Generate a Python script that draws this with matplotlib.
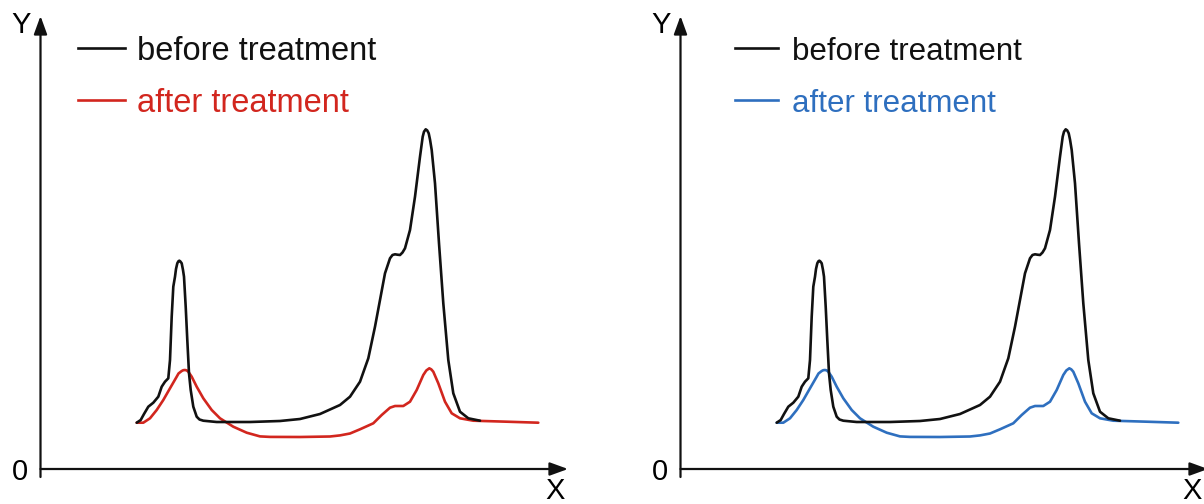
import matplotlib
matplotlib.use("Agg")
import matplotlib.pyplot as plt
from matplotlib.patches import FancyArrowPatch

plt.rcParams['font.family'] = ['Liberation Sans', 'DejaVu Sans']

# ---- data (same curves in both panels; x, y in axis units) ----
before_x = [96.2, 100.2, 103.5, 107.8, 112.8, 117.8, 121.2, 124.5, 127.8, 129.5,
            131.2, 132.8, 134.5, 135.5, 136.8, 137.8, 138.8, 139.8, 141.2, 142.5,
            143.5, 145.2, 146.8, 148.5, 150.2, 152.8, 156.2, 159.0, 162.8, 176.2,
            209.5, 239.5, 259.5, 279.5, 299.5, 309.5, 319.5, 327.8, 334.5, 339.5,
            344.5, 349.5, 352.0, 354.5, 357.0, 359.5, 362.0, 364.5, 369.5, 374.5,
            379.5, 382.2, 383.5, 385.2, 386.7, 388.2, 389.5, 391.2, 394.5, 398.5,
            402.8, 407.8, 412.8, 419.5, 427.8, 439.5]
before_y = [46.3, 49.0, 55.0, 62.3, 66.3, 72.3, 82.3, 87.3, 90.7, 109.0,
            152.3, 182.3, 192.3, 200.0, 205.7, 207.6, 208.3, 207.6, 205.7, 199.0,
            192.3, 162.3, 129.0, 95.7, 79.0, 62.3, 52.3, 49.5, 48.3, 47.0,
            47.0, 48.0, 50.0, 55.0, 64.0, 72.3, 87.3, 110.7, 142.3, 169.0,
            195.7, 210.7, 214.0, 214.7, 214.3, 214.0, 216.5, 220.7, 239.0, 272.3,
            312.3, 332.3, 337.3, 339.7, 338.6, 335.7, 329.5, 319.0, 285.7, 225.7,
            165.7, 109.0, 75.7, 57.3, 50.7, 48.3]

after_x = [96.2, 102.8, 109.5, 116.2, 122.8, 129.5, 136.2, 138.0, 141.2, 142.8,
           144.5, 146.2, 147.8, 151.2, 156.2, 162.8, 171.2, 179.5, 192.8, 206.2,
           219.5, 229.5, 259.5, 289.5, 299.5, 309.5, 319.5, 332.8, 341.2, 349.5,
           354.5, 362.8, 369.5, 376.2, 382.8, 385.8, 388.8, 390.8, 392.8, 397.8,
           404.5, 411.2, 419.5, 432.8, 466.2, 497.8]
after_y = [46.3, 46.3, 50.7, 59.0, 69.0, 80.7, 92.3, 95.5, 98.0, 98.8,
           99.0, 98.6, 97.3, 92.3, 82.3, 70.7, 59.0, 50.7, 42.3, 36.3,
           32.6, 32.1, 32.0, 32.5, 33.6, 35.5, 39.7, 45.7, 54.0, 61.3,
           63.0, 63.0, 67.3, 79.0, 94.0, 98.5, 100.7, 99.6, 97.3, 85.7,
           67.3, 55.7, 50.7, 48.3, 47.3, 46.3]

labels = ["before treatment", "after treatment"]
after_colors = ["#d2261e", "#2e6fbf"]

W, H = 1204, 504
fig = plt.figure(figsize=(W / 100, H / 100), dpi=100)

panels = [
    dict(ox=40.5, color=after_colors[0], fs=23.5, lx0=37.5, lx1=84.5, tx=96.5, xl=514.5),
    dict(ox=680.5, color=after_colors[1], fs=22.5, lx0=54.5, lx1=97.5, tx=111.5, xl=512.0),
]
oy = 469.0
xmax, ymax = 527.5, 453.0
LW = 1.9

for p in panels:
    ax = fig.add_axes([p['ox'] / W, (H - oy) / H, xmax / W, ymax / H])
    ax.set_xlim(0, xmax)
    ax.set_ylim(0, ymax)
    ax.axis('off')

    ax.plot(before_x, before_y, color='#111111', lw=LW, solid_joinstyle='round',
            solid_capstyle='round', zorder=3)
    ax.plot(after_x, after_y, color=p['color'], lw=LW, solid_joinstyle='round',
            solid_capstyle='round', zorder=2)

    # axes arrows
    for (x0, y0, x1, y1) in [(0, 0, xmax, 0), (0, -8, 0, ymax)]:
        arr = FancyArrowPatch((x0, y0), (x1, y1), transform=ax.transData,
                              arrowstyle='-|>,head_length=0.55,head_width=0.2',
                              mutation_scale=20, lw=1.6, color='#111111',
                              clip_on=False, shrinkA=0, shrinkB=0)
        ax.add_patch(arr)

    ax.text(-19.5, 444, "Y", fontsize=21, ha='center', va='center', clip_on=False)
    ax.text(-20.5, -3, "0", fontsize=21, ha='center', va='center', clip_on=False)
    ax.text(p['xl'], -22, "X", fontsize=21, ha='center', va='center', clip_on=False)

    # legend
    for lab, col, ly in zip(labels, ['#111111', p['color']], [421, 369]):
        ax.plot([p['lx0'], p['lx1']], [ly, ly], color=col, lw=LW, clip_on=False)
        ax.text(p['tx'], ly, lab, fontsize=p['fs'], color=col, ha='left',
                va='center_baseline', clip_on=False)

fig.savefig("out.png", dpi=100, facecolor='white')
